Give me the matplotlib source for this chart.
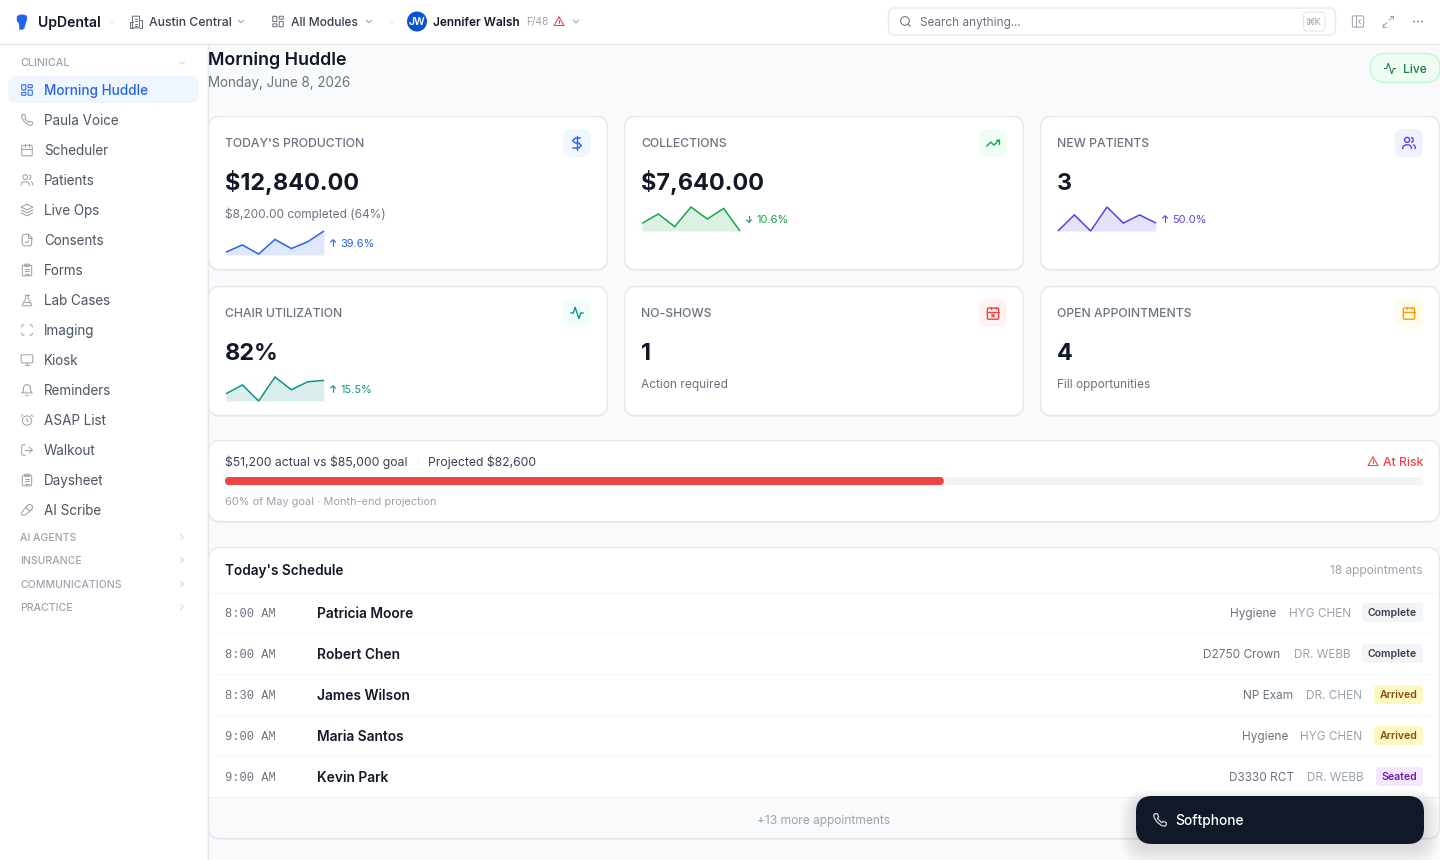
import matplotlib
matplotlib.use("Agg")
import matplotlib.pyplot as plt
from matplotlib.patches import FancyBboxPatch, Circle, PathPatch
from matplotlib.path import Path

plt.rcParams['font.family'] = ['Inter', 'Noto Sans', 'DejaVu Sans']

# ---------- data ----------
nav_items = ["Morning Huddle", "Paula Voice", "Scheduler", "Patients", "Live Ops", "Consents", "Forms",
             "Lab Cases", "Imaging", "Kiosk", "Reminders", "ASAP List", "Walkout", "Daysheet", "AI Scribe"]
nav_icons = ["grid", "phone", "calendar", "users", "layers", "filecheck", "clipboard",
             "flask", "scan", "monitor", "bell", "alarm", "logout", "clipboard", "pen"]
nav_groups = ["AI AGENTS", "INSURANCE", "COMMUNICATIONS", "PRACTICE"]

kpi_labels = ["TODAY'S PRODUCTION", "COLLECTIONS", "NEW PATIENTS", "CHAIR UTILIZATION", "NO-SHOWS", "OPEN APPOINTMENTS"]
kpi_values = ["$12,840.00", "$7,640.00", "3", "82%", "1", "4"]
kpi_notes = ["$8,200.00 completed (64%)", "", "", "", "Action required", "Fill opportunities"]
kpi_icons = ["dollar", "trend", "users", "activity", "calx", "calendar"]

spark_production = [12, 42, 4, 65, 27, 55, 100]
spark_collections = [32, 71, 18, 100, 50, 94, 0]
spark_patients = [0, 67, 0, 100, 33, 67, 33]
spark_chair = [30, 67, 0, 100, 47, 80, 86]
delta_labels = ["39.6%", "10.6%", "50.0%", "15.5%"]
delta_dirs = ["up", "down", "up", "up"]

goal_percent = 60
goal_total = 100

times = ["8:00 AM", "8:00 AM", "8:30 AM", "9:00 AM", "9:00 AM"]
patients = ["Patricia Moore", "Robert Chen", "James Wilson", "Maria Santos", "Kevin Park"]
procedures = ["Hygiene", "D2750 Crown", "NP Exam", "Hygiene", "D3330 RCT"]
providers = ["HYG CHEN", "DR. WEBB", "DR. CHEN", "HYG CHEN", "DR. WEBB"]
statuses = ["Complete", "Complete", "Arrived", "Arrived", "Seated"]

# ---------- colours ----------
INK = "#111827"; G7 = "#374151"; G6 = "#4b5563"; G5 = "#6b7280"; G4 = "#9ca3af"; G3 = "#d1d5db"; LINE = "#e5e7eb"
BLUE = "#2563eb"; GREEN = "#16a34a"; INDIGO = "#4f46e5"; TEAL = "#0d9488"; RED = "#ef4444"; AMBER = "#f59e0b"

fig = plt.figure(figsize=(14.4, 8.6), dpi=100, facecolor="#f9fafb")
ax = fig.add_axes([0, 0, 1, 1])
ax.set_xlim(0, 1440); ax.set_ylim(860, 0); ax.axis("off")


def T(x, cy, s, px, color=INK, weight="normal", ha="left", family=None, z=5):
    kw = {"family": family} if family else {}
    ax.text(x, cy + 0.36 * px, s, fontsize=px * 0.72, color=color, fontweight=weight,
            ha=ha, va="baseline", zorder=z, parse_math=False, **kw)


def R(x0, y0, x1, y1, r=0, fc="white", ec="none", lw=1, z=2, alpha=None):
    p = FancyBboxPatch((x0 + r, y0 + r), x1 - x0 - 2 * r, y1 - y0 - 2 * r,
                       boxstyle=f"round,pad={r},rounding_size={r}" if r else "square,pad=0",
                       fc=fc, ec=ec, lw=lw, zorder=z, alpha=alpha)
    ax.add_patch(p)
    return p


def L(pts, color, lw=1.0, z=6):
    xs, ys = zip(*pts)
    ax.plot(xs, ys, color=color, lw=lw, zorder=z, solid_capstyle="round", solid_joinstyle="round")


def icon(name, cx, cy, size=14, color=G4, lw=0.75, z=6):
    k = size / 24.0
    def P(*pts):
        L([(cx + (a - 12) * k, cy + (b - 12) * k) for a, b in pts], color, lw, z)
    def C(a, b, r):
        ax.add_patch(Circle((cx + (a - 12) * k, cy + (b - 12) * k), r * k, fc="none", ec=color, lw=lw, zorder=z))
    def B(a, b, w, h, r=2):
        R(cx + (a - 12) * k, cy + (b - 12) * k, cx + (a + w - 12) * k, cy + (b + h - 12) * k, r * k,
          fc="none", ec=color, lw=lw, z=z)
    if name == "grid":
        B(3, 3, 7, 9, 1); B(14, 3, 7, 5, 1); B(14, 12, 7, 9, 1); B(3, 16, 7, 5, 1)
    elif name == "phone":
        P((5, 2.5), (8, 2.5), (10, 7.5), (8, 9.5), (14.5, 16), (16.5, 14), (21.5, 16), (21.5, 19), (19.5, 21.5),
          (14, 20), (8, 15.5), (3.5, 9), (2.5, 4.5), (5, 2.5))
    elif name in ("calendar", "calx"):
        B(3, 4, 18, 18); P((16, 2), (16, 6)); P((8, 2), (8, 6)); P((3, 10), (21, 10))
        if name == "calx":
            P((10, 14), (14, 18)); P((14, 14), (10, 18))
    elif name == "users":
        C(9, 7, 4)
        P((2, 21), (2, 19), (4, 16), (7, 15), (11, 15), (14, 16), (16, 19), (16, 21))
        P((16, 3.1), (18.5, 5), (18.5, 9), (16, 11)); P((22, 21), (22, 19), (21, 16.5), (19, 15))
    elif name == "layers":
        P((12, 2), (22, 7), (12, 12), (2, 7), (12, 2)); P((2, 12), (12, 17), (22, 12)); P((2, 17), (12, 22), (22, 17))
    elif name == "filecheck":
        P((14, 2), (6, 2), (4, 4), (4, 20), (6, 22), (18, 22), (20, 20), (20, 8), (14, 2))
        P((14, 2), (14, 8), (20, 8)); P((9, 15), (11, 17), (15, 13))
    elif name == "clipboard":
        B(4, 4, 16, 18); B(8, 2, 8, 4, 1); P((8, 11), (16, 11)); P((8, 14.5), (16, 14.5)); P((8, 18), (16, 18))
    elif name == "flask":
        P((8, 3), (16, 3)); P((10, 3), (10, 9), (4, 20), (5, 22), (19, 22), (20, 20), (14, 9), (14, 3)); P((7, 15), (17, 15))
    elif name == "scan":
        P((3, 7), (3, 5), (5, 3), (7, 3)); P((17, 3), (19, 3), (21, 5), (21, 7))
        P((21, 17), (21, 19), (19, 21), (17, 21)); P((7, 21), (5, 21), (3, 19), (3, 17))
    elif name == "monitor":
        B(2, 3, 20, 14); P((8, 21), (16, 21)); P((12, 17), (12, 21))
    elif name == "bell":
        P((6, 8), (8, 4), (12, 2.5), (16, 4), (18, 8), (18, 13), (21, 17), (3, 17), (6, 13), (6, 8)); P((10, 21), (12, 22), (14, 21))
    elif name == "alarm":
        C(12, 13, 8); P((12, 9), (12, 13), (14, 15)); P((5, 3), (2, 6)); P((19, 3), (22, 6))
    elif name == "logout":
        P((9, 3), (5, 3), (3, 5), (3, 19), (5, 21), (9, 21)); P((16, 17), (21, 12), (16, 7)); P((21, 12), (9, 12))
    elif name == "pen":
        C(16.5, 7.5, 5); P((12.5, 4.5), (3, 16), (3, 19.5), (5, 21), (8.5, 21), (19.5, 11.5))
    elif name == "search":
        C(11, 11, 8); P((21, 21), (16.65, 16.65))
    elif name == "panel":
        B(3, 3, 18, 18); P((9, 3), (9, 21)); P((16, 15), (13, 12), (16, 9))
    elif name == "expand":
        P((21, 3), (14, 10)); P((3, 21), (10, 14)); P((16, 3), (21, 3), (21, 8)); P((3, 16), (3, 21), (8, 21))
    elif name == "alert":
        P((12, 3), (22, 20), (2, 20), (12, 3)); P((12, 9), (12, 14)); P((12, 17), (12, 17.2))
    elif name == "activity":
        P((22, 12), (18, 12), (15, 21), (9, 3), (6, 12), (2, 12))
    elif name == "dollar":
        P((12, 2), (12, 22)); P((17, 5), (9.5, 5), (6, 8.5), (9.5, 12), (14.5, 12), (18, 15.5), (14.5, 19), (6, 19))
    elif name == "trend":
        P((22, 7), (13.5, 15.5), (8.5, 10.5), (2, 17)); P((16, 7), (22, 7), (22, 13))
    elif name == "building":
        B(6, 2, 12, 20, 1); P((2, 12), (6, 12)); P((18, 9), (22, 9), (22, 22), (18, 22)); P((2, 12), (2, 22), (6, 22))
        P((10, 7), (14, 7)); P((10, 11), (14, 11)); P((10, 15), (14, 15)); P((10, 19), (14, 19))
    elif name == "down":
        P((6, 9), (12, 15), (18, 9))
    elif name == "right":
        P((9, 6), (15, 12), (9, 18))
    elif name == "arrowup":
        P((12, 20), (12, 4)); P((6, 10), (12, 4), (18, 10))
    elif name == "arrowdown":
        P((12, 4), (12, 20)); P((6, 14), (12, 20), (18, 14))


# ---------- shell ----------
R(0, 0, 1440, 43, fc="white", z=1)
ax.plot([0, 1440], [43.5, 43.5], color=LINE, lw=1, zorder=2)
R(0, 44, 207, 860, fc="white", z=1)
ax.plot([207.5, 207.5], [44, 860], color=LINE, lw=1, zorder=2)

# top bar
ax.add_patch(PathPatch(Path([(17, 17), (17, 14), (27, 14), (27, 17), (27, 21), (25, 23), (24.5, 28), (22.5, 29.5), (19.5, 29.5), (19, 23), (17, 21), (17, 17)],
                            [Path.MOVETO, Path.CURVE4, Path.CURVE4, Path.CURVE4, Path.CURVE4, Path.CURVE4, Path.CURVE4, Path.LINETO, Path.LINETO, Path.LINETO, Path.LINETO, Path.LINETO]),
                       fc=BLUE, ec=BLUE, lw=0.3, zorder=6))
T(38, 22, "UpDental", 14, INK, "semibold")
ax.add_patch(Circle((112, 22.5), 0.8, fc=G3, ec="none", zorder=6))
icon("building", 136, 22, 14, G5)
T(149, 21.5, "Austin Central", 12.2, G7, "medium")
icon("down", 241, 21.5, 11, G4)
icon("grid", 278, 21.5, 14, G5)
T(291, 21.5, "All Modules", 12, G7, "medium")
icon("down", 369, 21.5, 11, G4)
ax.add_patch(Circle((392, 22.5), 0.8, fc=G3, ec="none", zorder=6))
ax.add_patch(Circle((417, 21.5), 10, fc="#0b52d6", ec="none", zorder=5))
T(417, 21.5, "JW", 10.5, "white", "semibold", ha="center", z=6)
T(433, 21.5, "Jennifer Walsh", 11.9, INK, "semibold")
T(526, 21.5, "F/48", 10, G4)
icon("alert", 559, 21.5, 12, RED)
icon("down", 576, 21.5, 11, G4)

R(888.5, 8, 1335.5, 35, 6, fc="white", ec=LINE, lw=1)
icon("search", 905.5, 21.5, 13, G5)
T(920, 21.5, "Search anything...", 11.8, G5)
R(1303.5, 12, 1325, 31, 4, fc="white", ec=LINE, lw=0.8)
T(1314, 21.5, "⌘K", 9.5, G4, ha="center", family=["DejaVu Sans"])
icon("panel", 1358, 21.5, 15, G4)
icon("expand", 1388, 21.5, 14, G4)
for dx in (1414, 1418, 1422):
    ax.add_patch(Circle((dx, 21.5), 0.9, fc=G5, ec="none", zorder=6))

# sidebar
T(20, 62.5, "CLINICAL", 10.8, G4, "medium")
icon("down", 182, 63, 10, G3)
R(8, 76, 199, 103, 8, fc="#eff6ff", z=3)
for i, (name, ic) in enumerate(zip(nav_items, nav_icons)):
    cy = 90 + 30 * i
    active = i == 0
    icon(ic, 27, cy, 14, BLUE if active else G4)
    T(44, cy, name, 13.5, BLUE if active else G6, "medium" if active else "normal")
for name, cy in zip(nav_groups, [537, 560, 584, 607]):
    T(20, cy, name, 10.5, G4, "medium")
    icon("right", 182, cy, 10, G3)

# header
T(208, 59, "Morning Huddle", 17.9, INK, "semibold")
T(208, 82, "Monday, June 8, 2026", 13.4, G5)
R(1370.5, 53.5, 1440, 82.5, 14.5, fc="#f0fdf4", ec="#bbf7d0", lw=1)
icon("activity", 1390, 68.5, 14, "#15803d")
T(1403, 68.5, "Live", 12, "#15803d", "medium")

# KPI cards
card_x = [208, 624, 1040]
card_rows = [(116.5, 269.5), (286.5, 415.5)]
tile_bg = ["#eff6ff", "#f0fdf4", "#eef2ff", "#f0fdfa", "#fef2f2", "#fffbeb"]
tile_fg = [BLUE, GREEN, INDIGO, TEAL, RED, AMBER]
for i in range(6):
    x = card_x[i % 3]
    y0, y1 = card_rows[i // 3]
    R(x + 0.5, y0 + 1.5, x + 399.5, y1 + 1.5, 12, fc="#eceef1", z=1.5)
    R(x + 0.5, y0, x + 399.5, y1, 12, fc="white", ec=LINE, lw=1, z=2)
    T(x + 17, y0 + 26.5, kpi_labels[i], 12.2, G5, "medium")
    R(x + 355, y0 + 12.5, x + 383, y0 + 40.5, 8, fc=tile_bg[i], z=3)
    icon(kpi_icons[i], x + 369, y0 + 26.5, 15 if i else 17, tile_fg[i], lw=1.0)
    T(x + 17, y0 + 65, kpi_values[i], 23.4, INK, "bold")
    if kpi_notes[i]:
        T(x + 17, 213.5 if i == 0 else y0 + 97, kpi_notes[i], 11.9, G5)

# sparklines
spark_series = [spark_production, spark_collections, spark_patients, spark_chair]
spark_colors = [BLUE, GREEN, INDIGO, TEAL]
spark_box = [(226, 231, 98), (642, 207, 98), (1058, 207, 98), (226, 377, 98)]
for vals, col, (sx, sy, sw), lab, d in zip(spark_series, spark_colors, spark_box, delta_labels, delta_dirs):
    a = fig.add_axes([sx / 1440, 1 - (sy + 24) / 860, sw / 1440, 24 / 860])
    a.set_xlim(0, len(vals) - 1); a.set_ylim(0, 100); a.axis("off"); a.patch.set_alpha(0)
    xs = list(range(len(vals)))
    a.fill_between(xs, vals, 0, color=col, alpha=0.15, lw=0)
    a.plot(xs, vals, color=col, lw=1.1, clip_on=False, solid_joinstyle="miter", solid_capstyle="butt")
    my = sy + 12
    icon("arrow" + d, sx + sw + 9, my, 10, col, lw=0.8)
    T(sx + sw + 16.5, my, lab, 11, col)

# goal card
R(208.5, 442, 1439.5, 523, 12, fc="#eceef1", z=1.5)
R(208.5, 440.5, 1439.5, 521.5, 12, fc="white", ec=LINE, lw=1)
T(225, 461.5, "$51,200 actual vs $85,000 goal", 12.2, G7)
ax.add_patch(Circle((418.5, 462), 0.7, fc=G3, ec="none", zorder=6))
T(428, 461.5, "Projected $82,600", 12.2, G7)
icon("alert", 1373, 461.5, 12, RED)
T(1423, 461.5, "At Risk", 12.2, RED, "medium", ha="right")
goal_ax = fig.add_axes([225 / 1440, 1 - 485 / 860, 1198 / 1440, 8 / 860])
goal_ax.set_xlim(0, goal_total); goal_ax.set_ylim(0, 1); goal_ax.axis("off")
track = goal_ax.barh([0.5], [goal_total], height=1, color="#f3f4f6", lw=0)[0]
fill = goal_ax.barh([0.5], [goal_percent], height=1, color=RED, lw=0)[0]
track_clip = R(225, 477, 1423, 485, 4, fc="none")
fill_clip = R(225, 477, 225 + 1198 * goal_percent / goal_total, 485, 4, fc="none")
track.set_clip_path(track_clip)
fill.set_clip_path(fill_clip)
T(225, 501, "60% of May goal · Month-end projection", 11, G4)

# schedule card
R(208.5, 549, 1439.5, 840, 12, fc="#eceef1", z=1.5)
R(208.5, 547.5, 1439.5, 838.5, 12, fc="white", ec="none", lw=1)
T(225, 570, "Today's Schedule", 13.65, INK, "semibold")
T(1423, 570, "18 appointments", 12, G4, ha="right")
ax.plot([209, 1439], [592.5, 592.5], color="#f3f4f6", lw=1, zorder=3)
status_bg = {"Complete": "#f3f4f6", "Arrived": "#fef9c3", "Seated": "#f3e8ff"}
status_fg = {"Complete": "#374151", "Arrived": "#854d0e", "Seated": "#6b21a8"}
status_w = {"Complete": 61, "Arrived": 49, "Seated": 47}
proc_end = {0: 1276.5, 1: 1280.5, 2: 1293, 3: 1288, 4: 1294}
prov_end = {0: 1351, 1: 1351, 2: 1362.5, 3: 1362.5, 4: 1364}
for i in range(5):
    cy = 612.5 + 41 * i
    if i:
        ax.plot([209, 1439], [cy - 20.5, cy - 20.5], color="#f9fafb", lw=1, zorder=3)
    T(225, cy, times[i], 12, G5, family=["Liberation Mono"])
    T(317, cy + 1, patients[i], 13.8, INK, "semibold")
    T(proc_end[i], cy, procedures[i], 11.8, G5, ha="right")
    T(prov_end[i], cy, providers[i], 11.8, G4, ha="right")
    w = status_w[statuses[i]]
    R(1423 - w, cy - 9.5, 1423, cy + 9.5, 4, fc=status_bg[statuses[i]], z=3)
    T(1423 - w / 2, cy, statuses[i], 10.5, status_fg[statuses[i]], "semibold", ha="center")
R(209, 797, 1439, 825, 0, fc="#f9fafb", z=2.5)
R(209, 815, 1439, 838, 11, fc="#f9fafb", z=2.6)
ax.plot([209, 1439], [797, 797], color="#f1f2f4", lw=1, zorder=3)
R(208.5, 547.5, 1439.5, 838.5, 12, fc="none", ec=LINE, lw=1, z=3)
T(824, 819.5, "+13 more appointments", 12, G4, ha="center")

# softphone
for g in range(10, 0, -1):
    R(1136 - g * 1.6, 796 + 4 - g * 1.0, 1424 + g * 1.6, 844 + 4 + g * 1.6, 16 + g, fc="#000000", z=7, alpha=0.01)
R(1136, 796, 1424, 844, 16, fc="#111827", z=8)
icon("phone", 1160, 820, 16, "#d1d5db", lw=0.9, z=9)
T(1175.5, 820, "Softphone", 13.8, "white", "medium", z=9)

fig.savefig("out.png", dpi=100, facecolor=fig.get_facecolor())
